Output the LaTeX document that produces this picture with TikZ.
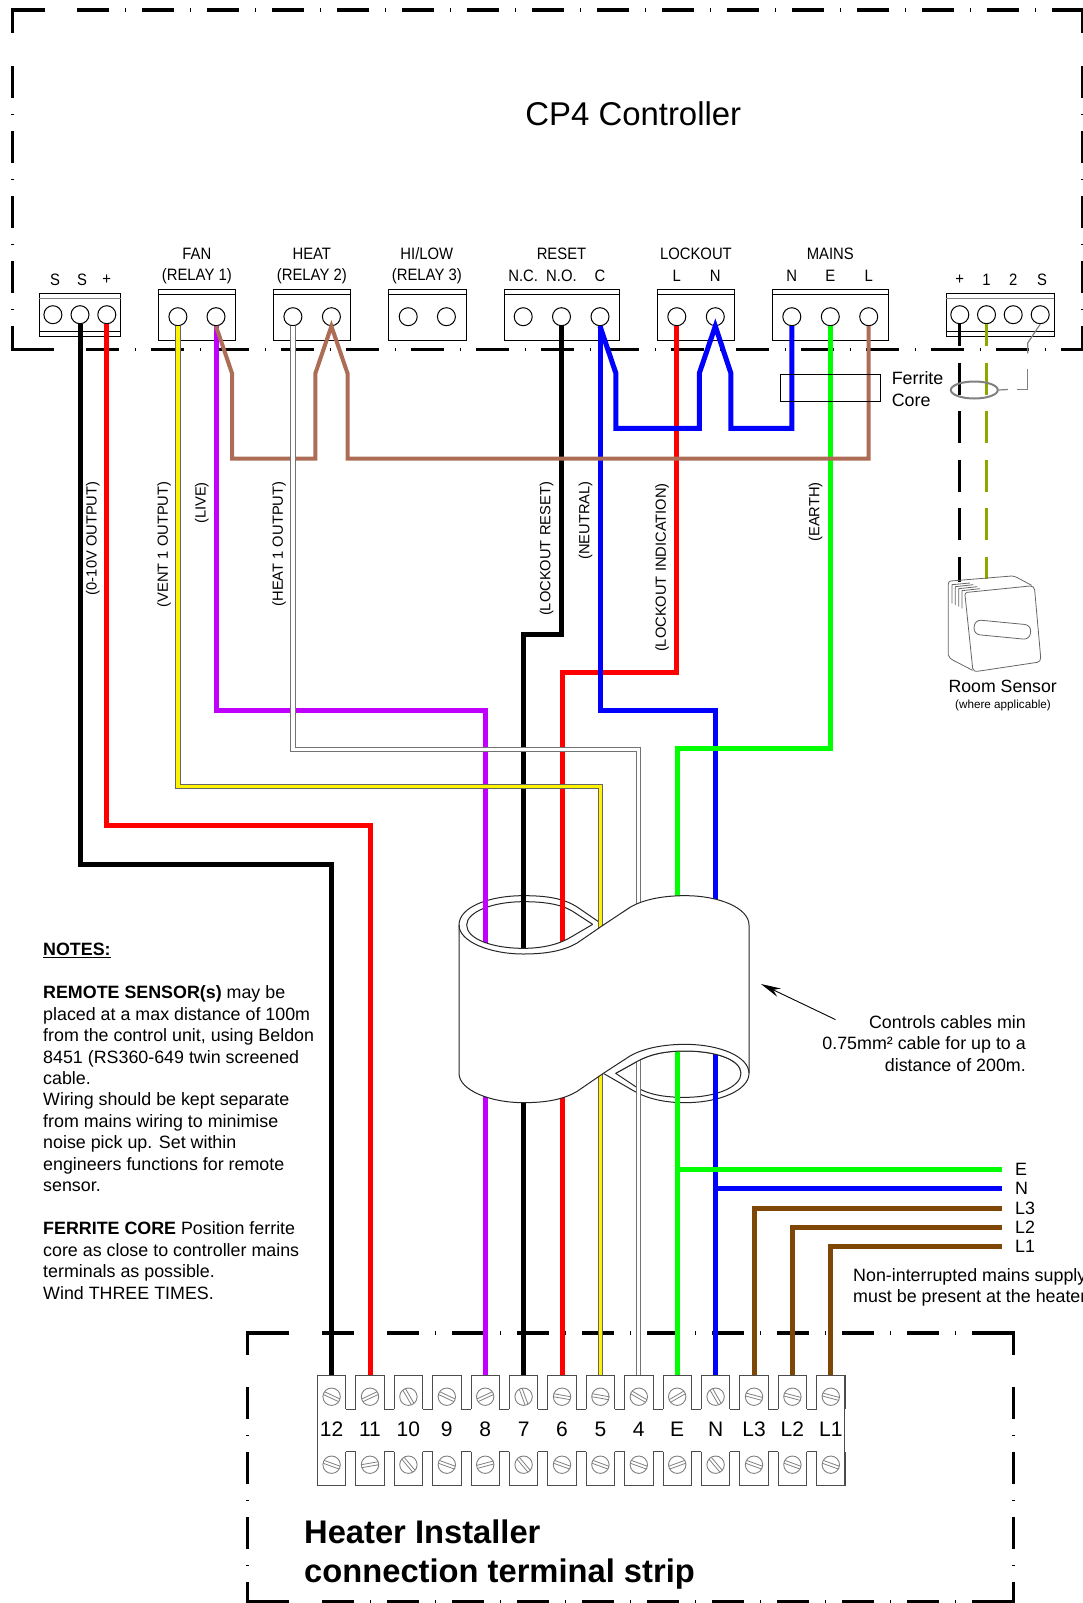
\documentclass[tikz,border=0pt]{standalone}
\usepackage{fontspec}
\setmainfont{Liberation Sans}
\newfontfamily\narrowf[FakeStretch=0.9]{Liberation Sans}
\usetikzlibrary{arrows.meta,shapes.geometric}
\definecolor{wbrown}{HTML}{AC6C56}
\definecolor{mbrown}{HTML}{7F4706}
\definecolor{wpurple}{HTML}{BF00FF}
\definecolor{wgreen}{HTML}{00FF00}
\definecolor{wolive}{HTML}{8CA800}
\tikzset{
  frameline/.style={line width=3.2pt,black,dash pattern=on 32.3pt off 15.8pt on 1.3pt off 15.6pt},
  framecorner/.style={line width=3.2pt,black,miter limit=10},
  term/.style={circle,draw,line width=1pt,minimum size=18pt,inner sep=0pt,fill=white},
  block/.style={draw,line width=1pt,fill=white},
  wire/.style={line width=5pt,miter limit=10},
  wireb/.style={line width=4pt,miter limit=10,wbrown},
  yellowire/.style={line width=1pt,draw=black!60,double=yellow,double distance=3.4pt,miter limit=10},
  graywire/.style={line width=1pt,draw=black!55,double=white,double distance=3.2pt,miter limit=10},
  tube/.style={line width=1pt,draw=black!85},
  strip/.style={line width=1pt,draw=black!70},
  screw/.style={line width=0.9pt,draw=gray},
  lab/.style={inner sep=0pt,font=\narrowf\fontsize{16.5}{18}\selectfont},
  rlab/.style={inner sep=0pt,rotate=90,font=\fontsize{14.7}{16}\selectfont},
  txt/.style={inner sep=0pt,font=\fontsize{17.85}{21.47}\selectfont},
  sens/.style={line width=0.8pt,draw=black!60,line join=round},
  sdash/.style={line width=3pt,dash pattern=on 32pt off 16.5pt,dash phase=10pt}
}
\begin{document}
\begin{tikzpicture}[x=1pt,y=-1pt]
\useasboundingbox (0,0) rectangle (1083,1603);
% top frame
\draw[framecorner] (12.3,33)--(12.3,10)--(45,10);
\draw[framecorner] (12.3,326)--(12.3,349.8)--(53.6,349.8);
\draw[frameline] (77,10)--(1083,10);
\draw[frameline] (86.4,349.8)--(1083,349.8);
\draw[frameline] (12.3,66)--(12.3,326);
\draw[frameline] (1083,66)--(1083,326);
\draw[framecorner] (1083,10)--(1083,33);
\draw[framecorner] (1083,326)--(1083,349.8);
% title
\node[inner sep=0pt,font=\fontsize{32.9}{36}\selectfont] (title) at (633.3,113.7) {CP4 Controller};
% blocks
\draw[block] (39.3,293.3) rectangle (120.7,336.7);
\draw[line width=1pt,gray] (39.3,298.7)--(120.7,298.7);
\draw[line width=1pt] (39.3,331)--(120.7,331);
\draw[block] (946.3,293.3) rectangle (1054,336.7);
\draw[line width=1pt,gray] (946.3,298.7)--(1054,298.7);
\draw[line width=1pt] (946.3,331)--(1054,331);
\foreach \a/\b in {158.2/235.7,273.6/350.7,388.6/466,504/619.3,657.8/734.3,772.8/888}{
  \draw[block] (\a,289.3) rectangle (\b,340.3);
  \draw[line width=1pt] (\a,294.3)--(\b,294.3);
}
\foreach \n/\x in {sa/52.9,sb/80,sc/106.8,ra/959.8,rb/986.5,rc/1013.2,rd/1040.2}
  \node[term] (\n) at (\x,314.7) {};
\foreach \n/\x in {fa/177.9,fb/216,ha/292.9,hb/331.4,la/408.2,lb/446.4,ca/523.2,cb/561.5,cc/600,oa/676.8,ob/715.3,ma/791.8,mb/830.3,mc/868.7}
  \node[term] (\n) at (\x,316.7) {};
% labels
\node[lab] (l1) at (196.8,254) {FAN};
\node[lab] (l2) at (196.8,276) {(RELAY 1)};
\node[lab] (l3) at (311.8,254) {HEAT};
\node[lab] (l4) at (311.8,276) {(RELAY 2)};
\node[lab] (l5) at (426.8,254) {HI/LOW};
\node[lab] (l6) at (426.8,276) {(RELAY 3)};
\node[lab] (l7) at (561.5,254) {RESET};
\node[lab] (l8) at (523.2,276) {N.C.};
\node[lab] (l9) at (561.5,276) {N.O.};
\node[lab] (l10) at (600,276) {C};
\node[lab] (l11) at (695.9,254) {LOCKOUT};
\node[lab] (l12) at (676.8,276) {L};
\node[lab] (l13) at (715.3,276) {N};
\node[lab] (l14) at (830.3,254) {MAINS};
\node[lab] (l15) at (791.8,276) {N};
\node[lab] (l16) at (830.3,276) {E};
\node[lab] (l17) at (868.7,276) {L};
\node[lab] (l18) at (55,280) {S};
\node[lab] (l19) at (82,280) {S};
\node[lab] (l20) at (106.8,280) {+};
\node[lab] (l21) at (959.8,280) {+};
\node[lab] (l22) at (986.5,280) {1};
\node[lab] (l23) at (1013.2,280) {2};
\node[lab] (l24) at (1042,280) {S};
\node[rlab] (r1) at (92.7,538.3) {(0-10V OUTPUT)};
\node[rlab] (r2) at (164,544.5) {(VENT 1 OUTPUT)};
\node[rlab] (r3) at (201.7,503) {(LIVE)};
\node[rlab] (r4) at (279,544) {(HEAT 1 OUTPUT)};
\node[rlab] (r5) at (546.5,549) {(LOCKOUT RESET)};
\node[rlab] (r6) at (585.5,520.5) {(NEUTRAL)};
\node[rlab] (r7) at (662,567.6) {(LOCKOUT INDICATION)};
\node[rlab] (r8) at (815.5,512) {(EARTH)};
% terminal anchors
\foreach \i/\l in {0/12,1/11,2/10,3/9,4/8,5/7,6/6,7/5,8/4,9/E,10/N,11/L3,12/L2,13/L1}{
  \pgfmathsetmacro\xx{331.6+38.4*\i}
  \coordinate (t\l) at (\xx,1375);
}
% tube rings (behind wires)
\begin{scope}[shift={(440,880)},x=0.33333pt,y=-0.33333pt]
  \draw[tube] (903,580) .. controls (903,540) and (830,513) .. (735,513) .. controls (670,513) and (625,525) .. (590,545) -- (527,580) -- (590,622) .. controls (625,643) and (670,652) .. (735,652) .. controls (830,652) and (903,620) .. (903,580);
  \draw[tube] (927,580) .. controls (927,630) and (840,668) .. (735,668) .. controls (670,668) and (620,655) .. (580,632) -- (490,580);
  \draw[tube] (80,135) .. controls (80,95) and (160,65) .. (250,65) .. controls (310,65) and (360,72) .. (395,92) -- (458,133);
  \draw[tube] (57,135) .. controls (57,80) and (150,47) .. (250,47) .. controls (320,47) and (370,55) .. (410,80) -- (490,135);
\end{scope}
% wires
\draw[wire,black] (sb.south) -- (sb.south |- 0,864) -| (t12);
\draw[wire,red] (sc.south) -- (sc.south |- 0,825.3) -| (t11);
\draw[wire,wpurple] (fb.south) -- (fb.south |- 0,710.8) -| (t8);
\draw[wire,black] (cb.south) -- (cb.south |- 0,634) -| (t7);
\draw[wire,red] (oa.south) -- (oa.south |- 0,672) -| (t6);
\draw[wire,blue] (cc.south) -- (cc.south |- 0,710.8) -| (tN);
\draw[wire,wgreen] (mb.south) -- (mb.south |- 0,748.6) -| (tE);
\draw[wire,blue] (cc.south) -- (615.9,373.3) -- (615.9,428.3) -- (699.3,428.3) -- (699.3,373.3) -- (ob.south) -- (730.9,373.3) -- (730.9,428.3) -- (ma.south |- 0,428.3) -- (ma.south);
% brown link
\draw[wireb] (fb.south) -- (232,373.3) -- (232,458.7) -- (315.4,458.7) -- (315.4,373.3) -- (hb.south) -- (347.5,373.3) -- (347.5,458.7) -- (mc.south |- 0,458.7) -- (mc.south);
\draw[graywire] (ha.south) -- (ha.south |- 0,749.6) -| (t4);
\draw[yellowire] (fa.south) -- (fa.south |- 0,786.5) -| (t5);
% mains supply
\coordinate (sE) at (1001.7,1169.3);
\coordinate (sN) at (1001.7,1188.7);
\coordinate (sL3) at (1001.7,1208);
\coordinate (sL2) at (1001.7,1227);
\coordinate (sL1) at (1001.7,1246.3);
\draw[wire,wgreen] (sE) -- (tE |- sE);
\draw[wire,blue] (sN) -- (tN |- sN);
\draw[wire,mbrown] (sL3) -| (tL3);
\draw[wire,mbrown] (sL2) -| (tL2);
\draw[wire,mbrown] (sL1) -| (tL1);
\node[txt,anchor=west] (nE) at (1015,1169.3) {E};
\node[txt,anchor=west] (nN) at (1015,1188.7) {N};
\node[txt,anchor=west] (nL3) at (1015,1208) {L3};
\node[txt,anchor=west] (nL2) at (1015,1227) {L2};
\node[txt,anchor=west] (nL1) at (1015,1246.3) {L1};
\node[txt,anchor=west] (ni1) at (853,1277) {Non-interrupted mains supply};
\node[txt,anchor=west] (ni2) at (853,1298) {must be present at the heater};
% tube body
\begin{scope}[shift={(440,880)},x=0.33333pt,y=-0.33333pt]
  \fill[white] (80,135) .. controls (80,178) and (160,205) .. (250,205) .. controls (310,205) and (360,192) .. (395,170) -- (458,133) -- (470,147) -- (490,135) -- (570,82) .. controls (610,58) and (670,47) .. (735,47) .. controls (840,47) and (927,85) .. (927,135) -- (927,580) -- (903,580) .. controls (903,540) and (830,513) .. (735,513) .. controls (670,513) and (625,525) .. (590,545) -- (527,580) -- (490,580) -- (410,635) .. controls (370,658) and (320,668) .. (250,668) .. controls (150,668) and (57,630) .. (57,580) -- (57,135) -- cycle;
  \draw[tube] (80,135) .. controls (80,178) and (160,205) .. (250,205) .. controls (310,205) and (360,192) .. (395,170) -- (458,133);
  \draw[tube] (57,135) .. controls (57,185) and (150,222) .. (250,222) .. controls (320,222) and (370,212) .. (410,190) -- (490,135) -- (570,82) .. controls (610,58) and (670,47) .. (735,47) .. controls (840,47) and (927,85) .. (927,135) -- (927,580);
  \draw[tube] (57,135) -- (57,580) .. controls (57,630) and (150,668) .. (250,668) .. controls (320,668) and (370,658) .. (410,635) -- (490,580) -- (570,528) .. controls (610,505) and (670,493) .. (735,493) .. controls (840,493) and (927,530) .. (927,580);
  \draw[tube] (903,580) .. controls (903,540) and (830,513) .. (735,513) .. controls (670,513) and (625,525) .. (590,545) -- (527,580);
\end{scope}
% ferrite box
\node[draw,line width=0.8pt,minimum width=100pt,minimum height=27pt,inner sep=0pt] (fbox) at (830.4,387.8) {};
\node[txt,anchor=west] (ft1) at (891.6,378) {Ferrite};
\node[txt,anchor=west] (ft2) at (891.6,400) {Core};
% sensor wires
\coordinate (sbot) at (959.8,582);
\draw[sdash,black] (ra.south) -- (ra.south |- sbot);
\draw[sdash,wolive] (rb.south) -- (rb.south |- sbot);
% ferrite ellipse and screen lead
\node[draw=gray,line width=2pt,ellipse,minimum width=47pt,minimum height=17pt,inner sep=0pt] (core) at (974.3,390) {};
\coordinate (sc1) at (1027.7,343);
\coordinate (sc2) at (1027.7,353.3);
\coordinate (sc3) at (1027.7,369.3);
\coordinate (sc4) at (1027.7,389.5);
\coordinate (sc5) at (1016.7,389.5);
\coordinate (sc6) at (1008,389.5);
\draw[line width=1.2pt,draw=gray] (rd.south) -- (sc1) -- (sc2);
\draw[line width=1.2pt,draw=gray] (sc3) -- (sc4) -- (sc5);
\draw[line width=1.2pt,draw=gray] (sc6) -- (core.east);
% sensor
\begin{scope}[shift={(920,560)},x=0.33333pt,y=-0.33333pt]
  \fill[white] (85,70) -- (280,48) -- (340,78) -- (362,300) -- (160,335) -- (85,285) -- cycle;
  \draw[sens] (85,285) -- (85,72) .. controls (85,66) and (88,64) .. (92,63) -- (275,48) .. controls (280,48) and (285,50) .. (290,52) -- (335,76);
  \draw[sens] (135,105) .. controls (135,100) and (137,98) .. (142,97) -- (330,78) .. controls (338,77) and (343,82) .. (344,90) -- (362,292) .. controls (363,300) and (358,306) .. (352,307) -- (172,334) .. controls (165,335) and (160,333) .. (158,325) -- (135,105);
  \draw[sens] (85,285) .. controls (88,293) and (92,297) .. (98,300) -- (158,331);
  \draw[sens] (96,130) -- (96,74) -- (150,69);
  \draw[sens] (106,135) -- (106,80) -- (160,74);
  \draw[sens] (116,140) -- (116,86) -- (172,80);
  \draw[sens] (126,145) -- (126,92) -- (180,86);
  \draw[sens,rotate around={-5.5:(247,209)},rounded corners=6.5pt] (162,187) rectangle (332,231);
\end{scope}
\node[inner sep=0pt,font=\fontsize{17.7}{20}\selectfont] (rs) at (1002.7,686) {Room Sensor};
\node[inner sep=0pt,font=\fontsize{11.7}{14}\selectfont] (rs2) at (1003,705) {(where applicable)};
% controls note
\node[txt,align=right,anchor=north east] (ctrl) at (1026,1015) {Controls cables min\\0.75mm² cable for up to a\\distance of 200m.};
\coordinate (arrtail) at (835.5,1019.6);
\coordinate (arrtip) at (761,984);
\draw[line width=0.9pt,-{Stealth[length=20pt,width=9pt]}] (arrtail) -- (arrtip);
% notes
\node[txt,align=left,anchor=north west] (notes) at (43,943) {\underline{\textbf{NOTES:}}\\[21.47pt]
\textbf{REMOTE SENSOR(s)} may be\\placed at a max distance of 100m\\from the control unit, using Beldon\\8451 (RS360-649 twin screened\\cable.\\Wiring should be kept separate\\from mains wiring to minimise\\noise pick up. Set within\\engineers functions for remote\\sensor.\\[21.47pt]
\textbf{FERRITE CORE} Position ferrite\\core as close to controller mains\\terminals as possible.\\Wind THREE TIMES.};
% lower frame
\draw[framecorner] (289.3,1333)--(247.7,1333)--(247.7,1354.5);
\draw[framecorner] (972.3,1333)--(1013.3,1333)--(1013.3,1354.5);
\draw[framecorner] (247.7,1582)--(247.7,1602)--(289.3,1602);
\draw[framecorner] (1013.3,1582)--(1013.3,1602)--(972.3,1602);
\draw[frameline] (322,1333)--(972.3,1333);
\draw[frameline] (322,1602)--(972.3,1602);
\draw[frameline] (247.7,1387)--(247.7,1582);
\draw[frameline] (1013.3,1387)--(1013.3,1582);
% redraw wires over lower frame
\draw[wire,black] (t12 |- 0,1320) -- (t12);
\draw[wire,red] (t11 |- 0,1320) -- (t11);
\draw[wire,wpurple] (t8 |- 0,1320) -- (t8);
\draw[wire,black] (t7 |- 0,1320) -- (t7);
\draw[wire,red] (t6 |- 0,1320) -- (t6);
\draw[yellowire] (t5 |- 0,1320) -- (t5);
\draw[graywire] (t4 |- 0,1320) -- (t4);
\draw[wire,wgreen] (tE |- 0,1320) -- (tE);
\draw[wire,blue] (tN |- 0,1320) -- (tN);
\draw[wire,mbrown] (tL3 |- 0,1320) -- (tL3);
\draw[wire,mbrown] (tL2 |- 0,1320) -- (tL2);
\draw[wire,mbrown] (tL1 |- 0,1320) -- (tL1);
% terminal strip
\draw[strip] (317.4,1375)--(317.4,1485.7);
\draw[strip] (844.8,1375)--(844.8,1485.7);
\foreach \i/\l/\at/\ab in {0/12/25/20,1/11/-25/-10,2/10/60/50,3/9/25/20,4/8/-25/-15,5/7/70/50,6/6/10/20,7/5/10/20,8/4/30/20,9/E/-30/-20,10/N/60/50,11/L3/15/20,12/L2/15/20,13/L1/15/20}{
  \pgfmathsetmacro\xx{331.6+38.4*\i}
  \pgfmathsetmacro\xl{\xx-14.2}
  \pgfmathsetmacro\xr{\xx+14.2}
  \pgfmathsetmacro\xn{\xx+24.2}
  \draw[strip] (\xl,1409.3)--(\xl,1375)--(\xr,1375)--(\xr,1409.3);
  \draw[strip] (\xl,1451.7)--(\xl,1485.7)--(\xr,1485.7)--(\xr,1451.7);
  \ifnum\i<13
    \draw[strip] (\xr,1409.3)--(\xn,1409.3);
    \draw[strip] (\xr,1451.7)--(\xn,1451.7);
  \fi
  \foreach \yy/\aa in {1396.7/\at,1464.7/\ab}{
    \draw[screw] (\xx,\yy) circle[radius=8.7pt];
    \begin{scope}[shift={(\xx,\yy)},rotate=-\aa]
      \draw[screw,line width=0.8pt] (-8.4,-1.5)--(8.4,-1.5);
      \draw[screw,line width=0.8pt] (-8.4,1.5)--(8.4,1.5);
    \end{scope}
  }
  \node[inner sep=0pt,font=\fontsize{21}{24}\selectfont] (lab\l) at (\xx,1429) {\l};
}
% strip title
\node[inner sep=0pt,anchor=west,font=\bfseries\fontsize{32.7}{36}\selectfont] (st1) at (304,1532) {Heater Installer};
\node[inner sep=0pt,anchor=west,font=\bfseries\fontsize{32.7}{36}\selectfont] (st2) at (304,1574) {connection terminal strip};
\end{tikzpicture}
\end{document}
